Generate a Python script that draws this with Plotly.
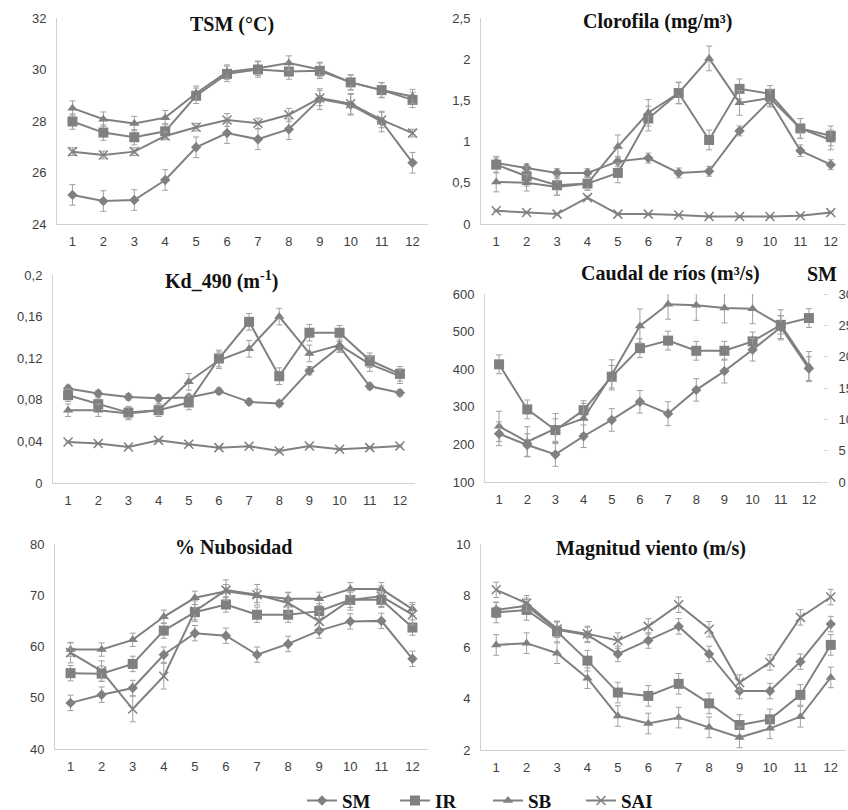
import plotly.graph_objects as go

months = list(range(1, 13))
month_labels = [str(m) for m in months]

# ---------- TSM (°C) ----------
tsm_sm = [25.13, 24.89, 24.93, 25.71, 26.98, 27.53, 27.29, 27.68, 28.85, 28.63, 27.98, 26.38]
tsm_ir = [27.98, 27.55, 27.37, 27.60, 28.98, 29.83, 30.00, 29.92, 29.95, 29.50, 29.20, 28.82]
tsm_sb = [28.50, 28.07, 27.90, 28.13, 29.08, 29.90, 30.05, 30.25, 30.00, 29.50, 29.20, 28.95]
tsm_sai = [26.81, 26.68, 26.81, 27.42, 27.76, 28.04, 27.91, 28.24, 28.89, 28.67, 28.04, 27.53]
tsm_sm_err = [0.40, 0.40, 0.40, 0.40, 0.40, 0.40, 0.40, 0.40, 0.40, 0.40, 0.40, 0.40]
tsm_ir_err = [0.30, 0.30, 0.30, 0.30, 0.30, 0.30, 0.30, 0.30, 0.30, 0.30, 0.30, 0.30]
tsm_sb_err = [0.28, 0.28, 0.28, 0.28, 0.28, 0.28, 0.28, 0.28, 0.28, 0.28, 0.28, 0.28]
tsm_sai_err = [0.15, 0.15, 0.15, 0.15, 0.15, 0.25, 0.20, 0.25, 0.30, 0.40, 0.30, 0.15]

# ---------- Clorofila (mg/m3) ----------
chl_sm = [0.74, 0.68, 0.62, 0.62, 0.76, 0.80, 0.62, 0.64, 1.13, 1.50, 0.89, 0.72]
chl_ir = [0.72, 0.58, 0.47, 0.49, 0.62, 1.28, 1.59, 1.02, 1.64, 1.58, 1.16, 1.07]
chl_sb = [0.51, 0.50, 0.45, 0.49, 0.94, 1.35, 1.59, 2.01, 1.47, 1.53, 1.16, 1.02]
chl_sai = [0.16, 0.14, 0.12, 0.32, 0.12, 0.12, 0.11, 0.09, 0.09, 0.09, 0.10, 0.14]
chl_sm_err = [0.06, 0.05, 0.05, 0.05, 0.06, 0.06, 0.06, 0.06, 0.06, 0.08, 0.07, 0.06]
chl_ir_err = [0.10, 0.12, 0.12, 0.08, 0.12, 0.15, 0.13, 0.12, 0.12, 0.10, 0.12, 0.12]
chl_sb_err = [0.12, 0.10, 0.10, 0.08, 0.14, 0.16, 0.13, 0.15, 0.15, 0.10, 0.12, 0.12]
chl_sai_err = [0.01, 0.01, 0.01, 0.02, 0.01, 0.01, 0.01, 0.01, 0.01, 0.01, 0.01, 0.01]

# ---------- Kd_490 (m-1) ----------
kd_sm = [0.0909, 0.0860, 0.0828, 0.0815, 0.0822, 0.0883, 0.0780, 0.0764, 0.1080, 0.1310, 0.0930, 0.0867]
kd_ir = [0.0844, 0.0758, 0.0677, 0.0700, 0.0774, 0.1197, 0.1550, 0.1027, 0.1445, 0.1445, 0.1180, 0.1050]
kd_sb = [0.0700, 0.0700, 0.0668, 0.0700, 0.0973, 0.1180, 0.1290, 0.1600, 0.1246, 0.1326, 0.1143, 0.1027]
kd_sai = [0.0395, 0.0379, 0.0347, 0.0410, 0.0372, 0.0340, 0.0353, 0.0308, 0.0356, 0.0324, 0.0340, 0.0356]
kd_sm_err = [0.003, 0.003, 0.003, 0.003, 0.003, 0.003, 0.003, 0.003, 0.004, 0.005, 0.003, 0.003]
kd_ir_err = [0.006, 0.006, 0.006, 0.006, 0.007, 0.008, 0.008, 0.008, 0.008, 0.007, 0.007, 0.007]
kd_sb_err = [0.006, 0.006, 0.006, 0.006, 0.008, 0.008, 0.008, 0.008, 0.008, 0.007, 0.007, 0.007]
kd_sai_err = [0.001, 0.001, 0.001, 0.001, 0.001, 0.001, 0.001, 0.002, 0.001, 0.001, 0.001, 0.001]

# ---------- Caudal de ríos (m3/s); SM on secondary axis ----------
q_ir = [413, 293, 238, 291, 380, 456, 476, 449, 449, 474, 518, 536]
q_sb = [248, 207, 242, 269, 385, 515, 573, 570, 563, 561, 518, 407]
q_sm = [7.7, 5.9, 4.4, 7.3, 9.9, 12.8, 10.9, 14.7, 17.7, 21.1, 24.7, 18.1]
q_ir_err = [25, 25, 30, 25, 30, 25, 25, 25, 25, 25, 25, 25]
q_sb_err = [40, 40, 40, 40, 40, 45, 40, 40, 40, 40, 40, 40]
q_sm_err = [1.9, 1.8, 1.9, 1.8, 1.8, 1.8, 1.9, 1.8, 1.9, 1.8, 1.8, 1.9]

# ---------- % Nubosidad ----------
nub_sm = [49.0, 50.6, 51.9, 58.4, 62.6, 62.1, 58.4, 60.5, 63.1, 64.9, 65.0, 57.6]
nub_ir = [54.8, 54.7, 56.6, 63.1, 66.7, 68.2, 66.2, 66.2, 66.9, 69.1, 69.1, 63.7]
nub_sb = [59.4, 59.4, 61.3, 65.8, 69.5, 70.8, 69.9, 69.3, 69.3, 71.2, 71.2, 67.3]
nub_sai = [58.8, 55.2, 47.8, 54.2, 66.9, 71.0, 70.1, 68.5, 64.9, 69.1, 69.8, 66.2]
nub_sm_err = [1.5, 1.5, 1.5, 1.5, 1.5, 1.5, 1.5, 1.5, 1.5, 1.5, 1.5, 1.5]
nub_ir_err = [1.5, 1.5, 1.5, 1.5, 1.5, 1.5, 1.5, 1.5, 1.5, 1.5, 1.5, 1.5]
nub_sb_err = [1.3, 1.3, 1.3, 1.3, 1.3, 1.3, 1.3, 1.3, 1.3, 1.3, 1.3, 1.3]
nub_sai_err = [2.0, 2.0, 2.5, 2.5, 2.0, 2.0, 2.0, 2.0, 2.0, 2.0, 2.0, 2.0]

# ---------- Magnitud viento (m/s) ----------
wind_sm = [7.44, 7.60, 6.67, 6.47, 5.73, 6.25, 6.80, 5.73, 4.29, 4.29, 5.43, 6.89]
wind_ir = [7.34, 7.44, 6.60, 5.47, 4.23, 4.10, 4.57, 3.81, 2.97, 3.19, 4.14, 6.08]
wind_sb = [6.08, 6.15, 5.76, 4.79, 3.32, 3.03, 3.26, 2.88, 2.49, 2.84, 3.29, 4.82]
wind_sai = [8.22, 7.70, 6.70, 6.51, 6.25, 6.80, 7.64, 6.69, 4.62, 5.40, 7.15, 7.94]
wind_sm_err = [0.30, 0.30, 0.30, 0.30, 0.30, 0.30, 0.30, 0.30, 0.30, 0.30, 0.30, 0.30]
wind_ir_err = [0.40, 0.40, 0.40, 0.40, 0.40, 0.40, 0.40, 0.40, 0.40, 0.40, 0.40, 0.40]
wind_sb_err = [0.40, 0.40, 0.40, 0.40, 0.40, 0.40, 0.40, 0.40, 0.40, 0.40, 0.40, 0.40]
wind_sai_err = [0.30, 0.30, 0.30, 0.30, 0.30, 0.30, 0.30, 0.30, 0.30, 0.30, 0.30, 0.30]

series_names = ["SM", "IR", "SB", "SAI"]

W, H = 848, 810
GRAY = "#808080"
AXIS = "#d0d0d0"
TICKFONT = dict(family="Liberation Sans, Arial", size=13, color="#404040")
TITLEFONT = dict(family="Liberation Serif, Times New Roman", size=20, color="#111111", weight="bold")

symbols = {"SM": "diamond", "IR": "square", "SB": "triangle-up", "SAI": "x-thin"}
sizes = {"SM": 8, "IR": 10, "SB": 9, "SAI": 9}


def px_x(a, b):
    return [a / W, b / W]


def px_y(top, bottom):
    return [1 - bottom / H, 1 - top / H]


panels = [
    (1, (57, 428), (18, 224), [24, 32], [24, 26, 28, 30, 32], ["24", "26", "28", "30", "32"],
     "TSM (°C)", 232, 24),
    (2, (481, 846), (18, 224), [0, 2.5], [0, 0.5, 1, 1.5, 2, 2.5], ["0", "0,5", "1", "1,5", "2", "2,5"],
     "Clorofila (mg/m³)", 657, 22),
    (3, (53, 415), (275, 483), [0, 0.2], [0, 0.04, 0.08, 0.12, 0.16, 0.2],
     ["0", "0,04", "0,08", "0,12", "0,16", "0,2"], "Kd_490 (m<sup>-1</sup>)", 221, 280),
    (4, (485, 823), (294, 482), [100, 600], [100, 200, 300, 400, 500, 600],
     ["100", "200", "300", "400", "500", "600"], "Caudal de ríos (m³/s)", 670, 273),
    (5, (55, 428), (544, 749), [40, 80], [40, 50, 60, 70, 80], ["40", "50", "60", "70", "80"],
     "% Nubosidad", 233, 547),
    (6, (481, 846), (544, 750), [2, 10], [2, 4, 6, 8, 10], ["2", "4", "6", "8", "10"],
     "Magnitud viento (m/s)", 651, 548),
]

data = {
    1: [(tsm_sm, tsm_sm_err), (tsm_ir, tsm_ir_err), (tsm_sb, tsm_sb_err), (tsm_sai, tsm_sai_err)],
    2: [(chl_sm, chl_sm_err), (chl_ir, chl_ir_err), (chl_sb, chl_sb_err), (chl_sai, chl_sai_err)],
    3: [(kd_sm, kd_sm_err), (kd_ir, kd_ir_err), (kd_sb, kd_sb_err), (kd_sai, kd_sai_err)],
    4: [None, (q_ir, q_ir_err), (q_sb, q_sb_err), None],
    5: [(nub_sm, nub_sm_err), (nub_ir, nub_ir_err), (nub_sb, nub_sb_err), (nub_sai, nub_sai_err)],
    6: [(wind_sm, wind_sm_err), (wind_ir, wind_ir_err), (wind_sb, wind_sb_err), (wind_sai, wind_sai_err)],
}

fig = go.Figure()


def add_series(name, y, err, xa, ya, showlegend):
    sym = symbols[name]
    marker = dict(symbol=sym, size=sizes[name], color=GRAY)
    if sym == "x-thin":
        marker["line"] = dict(color=GRAY, width=1.5)
    fig.add_trace(go.Scatter(
        x=months, y=y, name=name, mode="lines+markers",
        line=dict(color=GRAY, width=2),
        marker=marker,
        error_y=dict(type="data", array=err, visible=True, color="#a0a0a0", thickness=1, width=3),
        xaxis=xa, yaxis=ya, showlegend=showlegend, legendgroup=name,
    ))


layout = dict(
    width=W, height=H, margin=dict(l=0, r=0, t=0, b=0, autoexpand=False),
    paper_bgcolor="white", plot_bgcolor="white",
    separators=", ",
    annotations=[],
)

for p in panels:
    idx, xpx, ypx, yr, tv, tt, title, tx, ty = p
    sfx = "" if idx == 1 else str(idx)
    layout["xaxis" + sfx] = dict(
        domain=px_x(*xpx), range=[0.5, 12.5], anchor="y" + sfx,
        tickvals=months, ticktext=month_labels, tickfont=TICKFONT,
        showline=True, linecolor=AXIS, linewidth=1, showgrid=False, zeroline=False,
        ticks="outside", ticklen=5, tickcolor="rgba(0,0,0,0)",
    )
    layout["yaxis" + sfx] = dict(
        domain=px_y(*ypx), range=yr, anchor="x" + sfx,
        tickvals=tv, ticktext=tt, tickfont=TICKFONT,
        showline=True, linecolor=AXIS, linewidth=1, showgrid=False, zeroline=False,
        ticks="outside", ticklen=7, tickcolor="rgba(0,0,0,0)",
    )
    layout["annotations"].append(dict(
        text=title, x=tx / W, y=1 - ty / H, xref="paper", yref="paper",
        xanchor="center", yanchor="middle", showarrow=False, font=TITLEFONT,
    ))
    for k, name in enumerate(series_names):
        d = data[idx][k]
        if d is None:
            continue
        add_series(name, d[0], d[1], "x" + sfx, "y" + sfx, idx == 1)

# secondary axis for SM in Caudal panel
layout["yaxis7"] = dict(
    overlaying="y4", side="right", anchor="x4", range=[0, 30],
    tickvals=[0, 5, 10, 15, 20, 25, 30], ticktext=["0", "5", "10", "15", "20", "25", "30"],
    tickfont=TICKFONT, showline=False, showgrid=False, zeroline=False,
    ticks="outside", ticklen=4, tickcolor="#d8d8d8", ticklabelstandoff=8,
)
add_series("SM", q_sm, q_sm_err, "x4", "y7", False)

layout["annotations"].append(dict(
    text="SM", x=822 / W, y=1 - 274 / H, xref="paper", yref="paper",
    xanchor="center", yanchor="middle", showarrow=False, font=TITLEFONT,
))

layout["legend"] = dict(
    orientation="h", x=488 / W, xanchor="center", y=-0.012, yanchor="bottom",
    font=dict(family="Liberation Serif, Times New Roman", size=19, color="#111111", weight="bold"),
    itemwidth=30, entrywidth=48, entrywidthmode="pixels",
    bgcolor="rgba(0,0,0,0)", tracegroupgap=0,
)

fig.update_layout(**layout)
fig.write_html("out.html", config={"displayModeBar": False},
               post_script="document.body.style.margin='0';")
